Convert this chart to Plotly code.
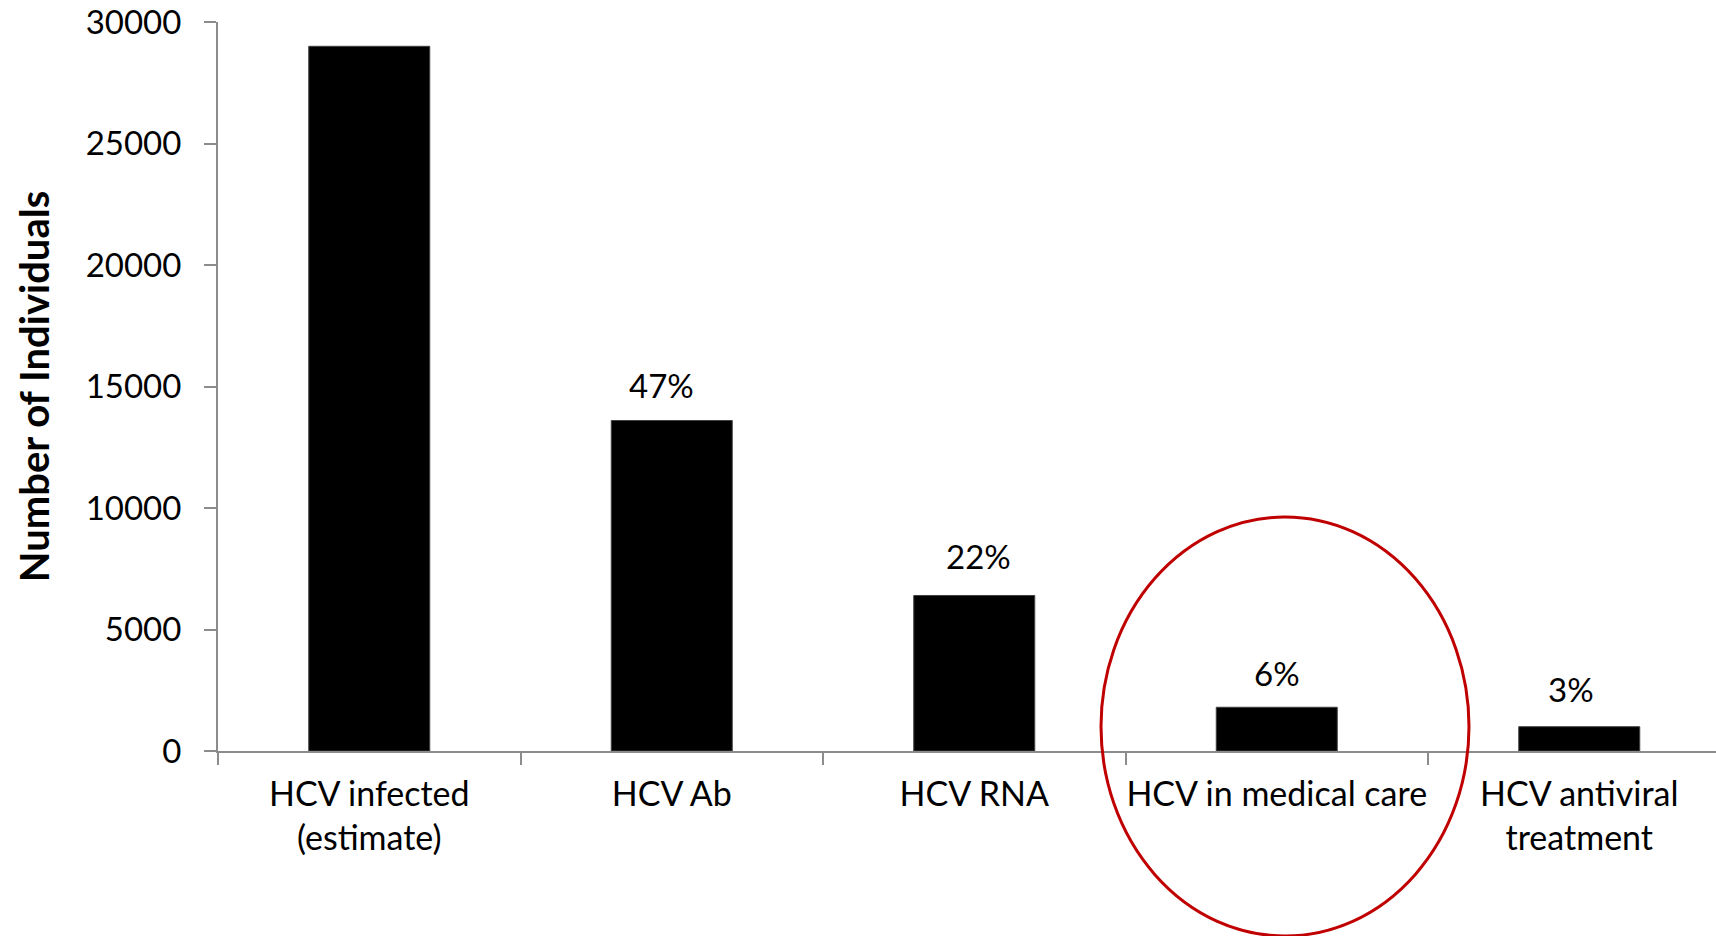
import plotly.graph_objects as go

# HCV care cascade
categories = ["HCV infected<br>(estimate)", "HCV Ab", "HCV RNA",
              "HCV in medical care", "HCV antiviral<br>treatment"]
individuals = [29000, 13600, 6400, 1800, 1000]
pct_labels = ["", "47%", "22%", "6%", "3%"]
y_ticks = [0, 5000, 10000, 15000, 20000, 25000, 30000]

# hand-placed nudges (px) for the percentage labels
label_dx = [0, -10, 4, 0, -8]
label_dy = [0, 36, 39, 34, 38]

FONT = "Lato"
AXIS_GRAY = "#8c8c8c"

W, H = 1716, 936
L, R, T, B = 218, 0, 22, 185

fig = go.Figure()
fig.add_trace(go.Bar(
    x=categories,
    y=individuals,
    width=0.4,
    marker=dict(color="black", line=dict(color="#404040", width=1)),
    hoverinfo="x+y",
))

# percentage labels above bars
for cat, val, txt, dx, dy in zip(categories, individuals, pct_labels,
                                 label_dx, label_dy):
    if txt:
        fig.add_annotation(x=cat, y=val, text=txt, showarrow=False,
                           yanchor="middle", xshift=dx, yshift=dy,
                           font=dict(family=FONT, size=33, color="black"))

# highlight ring around the "in medical care" column (pixel placement)
x0, x1, y0, y1 = 1101, 1469, 517, 936
pw, ph = W - L - R, H - T - B
fig.add_shape(type="circle", xref="paper", yref="paper",
              x0=(x0 - L) / pw, x1=(x1 - L) / pw,
              y0=(H - B - y1) / ph, y1=(H - B - y0) / ph,
              line=dict(color="#c00000", width=3))

fig.update_layout(
    width=W, height=H,
    margin=dict(l=L, r=R, t=T, b=B, autoexpand=False),
    paper_bgcolor="white", plot_bgcolor="white",
    showlegend=False,
    font=dict(family=FONT, size=34, color="black"),
    bargap=0.6,
)
fig.update_xaxes(
    type="category", automargin=False, tickangle=0,
    range=[-0.5, -0.5 + (W - L - R) / 302.5],
    showline=True, linecolor=AXIS_GRAY, linewidth=2,
    ticks="outside", tickson="boundaries", ticklen=12, tickcolor=AXIS_GRAY,
    tickwidth=1.5, showgrid=False, zeroline=False,
    tickfont=dict(family=FONT, size=34, color="black"),
    ticklabelstandoff=12,
)
fig.update_yaxes(
    range=[0, 30000], tickvals=y_ticks, tickformat="d", automargin=False,
    ticklabeloverflow="allow",
    showline=True, linecolor=AXIS_GRAY, linewidth=2,
    ticks="outside", ticklen=12, tickcolor=AXIS_GRAY, tickwidth=1.5,
    showgrid=False, zeroline=False,
    tickfont=dict(family=FONT, size=33, color="black"),
    ticklabelstandoff=16,
    title=dict(text="<b>Number of Individuals</b>", standoff=24,
               font=dict(family=FONT, size=40, color="black")),
)

fig.write_html("out.html")
